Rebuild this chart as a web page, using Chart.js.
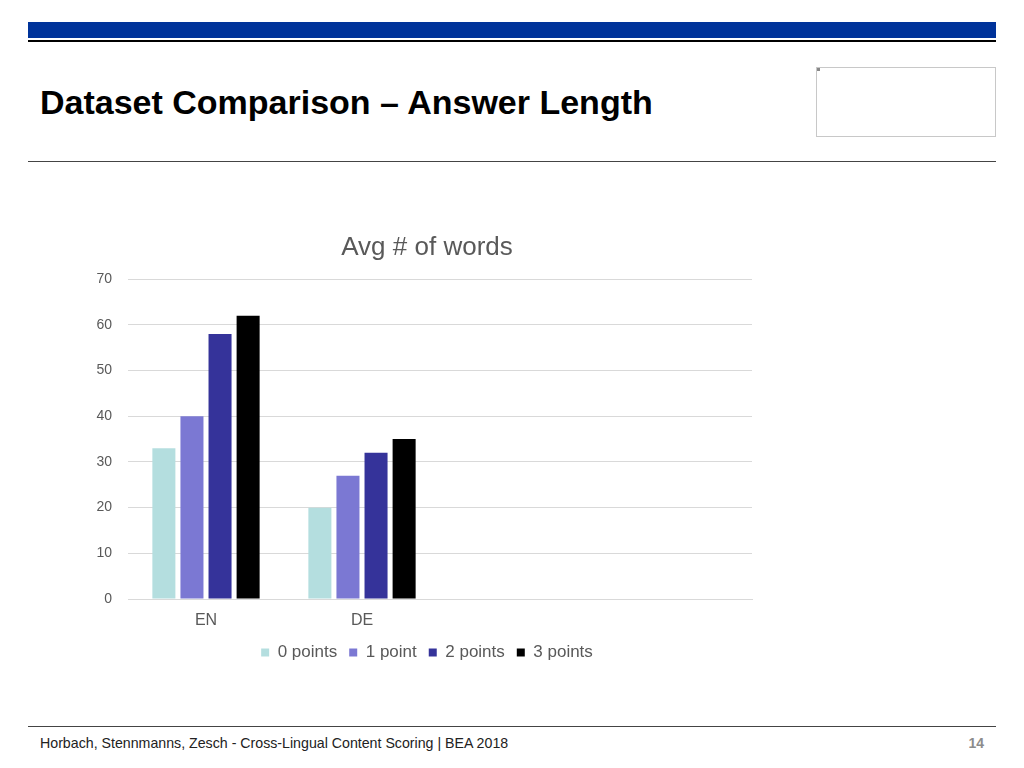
<!DOCTYPE html>
<html>
<head>
<meta charset="utf-8">
<script src="https://cdn.jsdelivr.net/npm/chart.js@4.4.0/dist/chart.umd.min.js"></script>
<style>
  html, body { margin:0; padding:0; background:#fff; width:1024px; height:768px; overflow:hidden; font-family:"Liberation Sans", Arial, sans-serif; }
  .abs { position:absolute; }
  #blue { left:28px; top:22px; width:968px; height:16px; background:#00339A; }
  #blk { left:28px; top:40px; width:968px; height:2px; background:#000; }
  #title { left:40px; top:83px; font-size:34px; font-weight:bold; color:#000; white-space:nowrap; }
  #logo { left:816px; top:67px; width:178px; height:68px; border:1px solid #c8c8c8; }
  #logomark { left:817px; top:68px; width:3px; height:3px; background:#888; }
  #hr1 { left:28px; top:161px; width:968px; height:1px; background:#444; }
  #hr2 { left:28px; top:726px; width:968px; height:1px; background:#444; }
  #foot { left:40px; top:735px; font-size:14.2px; color:#222; white-space:nowrap; }
  #page { right:40px; top:735px; font-size:14px; font-weight:bold; color:#8c8c8c; }
  #wrap { left:60px; top:222px; width:734px; height:449px; }
</style>
</head>
<body>
<div class="abs" id="blue"></div>
<div class="abs" id="blk"></div>
<div class="abs" id="title">Dataset Comparison – Answer Length</div>
<div class="abs" id="logo"></div>
<div class="abs" id="logomark"></div>
<div class="abs" id="hr1"></div>
<div class="abs" id="hr2"></div>
<div class="abs" id="foot">Horbach, Stennmanns, Zesch - Cross-Lingual Content Scoring | BEA 2018</div>
<div class="abs" id="page">14</div>
<div class="abs" id="wrap"><canvas id="c" width="734" height="449"></canvas></div>
<script>
const categories = ["EN", "DE", "", ""];
const seriesNames = ["0 points", "1 point", "2 points", "3 points"];
const points0 = [33, 20, null, null];
const points1 = [40, 27, null, null];
const points2 = [58, 32, null, null];
const points3 = [62, 35, null, null];
const seriesColors = ["#B4DEDF", "#7B78D3", "#35339A", "#000000"];
const yTicks = [0, 10, 20, 30, 40, 50, 60, 70];

const seriesValues = [points0, points1, points2, points3];
new Chart(document.getElementById("c"), {
  type: "bar",
  data: {
    labels: categories,
    datasets: seriesNames.map((n, i) => ({
      label: n,
      data: seriesValues[i],
      backgroundColor: seriesColors[i],
      borderWidth: 0,
      categoryPercentage: 0.72,
      barPercentage: 0.82
    }))
  },
  options: {
    responsive: false,
    animation: false,
    layout: { padding: 0 },
    plugins: {
      title: {
        display: true,
        text: "Avg # of words",
        color: "#595959",
        font: { family: "Liberation Sans", size: 26, weight: "normal" },
        padding: { top: 10, bottom: 16 }
      },
      legend: {
        position: "bottom",
        labels: {
          color: "#595959",
          font: { family: "Liberation Sans", size: 17 },
          boxWidth: 8,
          boxHeight: 8,
          padding: 12
        }
      },
      tooltip: { enabled: false }
    },
    scales: {
      x: {
        clip: false,
        grid: { display: false, drawTicks: false },
        border: { color: "#d9d9d9" },
        ticks: { color: "#595959", font: { family: "Liberation Sans", size: 16 }, padding: 12 },
        afterFit: (s) => { s.height = 33; }
      },
      y: {
        min: 0, max: 70,
        afterBuildTicks: (s) => { s.ticks = yTicks.map(v => ({ value: v })); },
        afterFit: (s) => { s.width = 68; },
        grid: { color: "#d9d9d9", drawTicks: false },
        border: { display: false },
        ticks: { color: "#595959", font: { family: "Liberation Sans", size: 14 }, padding: 16 }
      },
      yR: {
        position: "right",
        display: true,
        grid: { display: false, drawTicks: false },
        border: { display: false },
        ticks: { display: false },
        afterFit: (s) => { s.width = 42; }
      }
    }
  }
});
</script>
</body>
</html>
